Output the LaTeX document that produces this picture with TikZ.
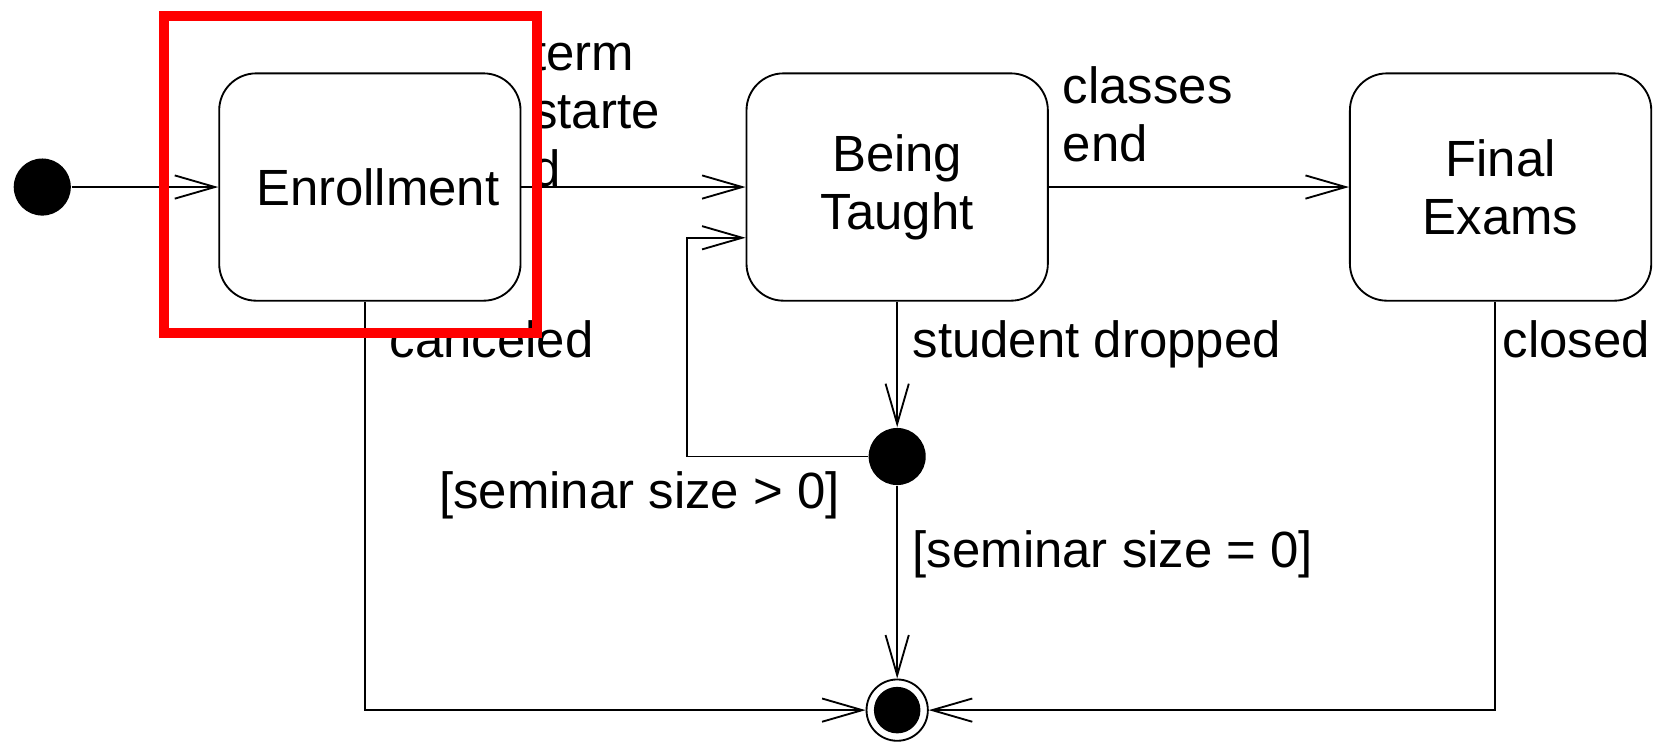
\documentclass[tikz,border=0pt]{standalone}
\usepackage{fontspec}
\setmainfont{Liberation Sans}
\usetikzlibrary{positioning,arrows.meta}

\newcommand{\lblfont}{\fontsize{13.7}{15.6}\selectfont}

\begin{document}
\begin{tikzpicture}[x=0.01cm,y=-0.01cm,
	state/.style={draw, line width=0.5pt, rounded corners=0.35cm, minimum width=2.85cm, minimum height=2.15cm, align=center, font=\lblfont},
	startdot/.style={circle, fill=black, inner sep=0pt, minimum size=0.54cm},
	enddot/.style={circle, draw, line width=0.5pt, inner sep=0pt, minimum size=0.58cm, path picture={\fill (path picture bounding box.center) circle (0.22cm);}},
	lbl/.style={font=\lblfont, inner sep=0pt, align=left},
	arr/.style={line width=0.5pt, -{Straight Barb[length=0.38cm,width=0.22cm]}},
	]
				\useasboundingbox (0,0) rectangle (1568,704);
				\node[startdot] (init) at (40,177) {};
				\node[state] (enroll) at (350,177) {\hspace{0.15cm}Enrollment};
				\node[state] (taught) at (849,177) {Being\\Taught};
				\node[state] (exams) at (1420,177) {Final\\Exams};
				\node[startdot] (junction) at (849,432) {};
				\node[enddot] (final) at (849,672) {};
				\coordinate (bend) at (650,225);
				
				\draw[arr] (init) -- (enroll);
				\draw[arr] (enroll) -- (taught);
				\draw[arr] (taught) -- (exams);
				\draw[arr] (taught) -- (junction);
				\draw[arr] (junction) -| (bend) -- (bend -| taught.west);
				\draw[arr] (junction) -- (final);
				\draw[arr] ([xshift=-0.05cm]enroll.south) |- (final.west);
				\draw[arr] ([xshift=-0.05cm]exams.south) |- (final.east);
				
				\node[lbl, anchor=north west] (lstart) at (503,35) {term\\starte\\d};
				\node[lbl, anchor=north west] (lend) at (1005,62) {classes\\end};
				\node[lbl, anchor=base west] (lcancel) at (368,338) {canceled};
				\node[lbl, anchor=base west] (ldrop) at (863,338) {student dropped};
				\node[lbl, anchor=base east] (lclosed) at (1562,338) {closed};
				\node[lbl, anchor=base west] (lgt) at (415,481) {[seminar size > 0]};
				\node[lbl, anchor=base west] (leq) at (863,537) {[seminar size = 0]};
				
				% highlight
				\draw[red, line width=0.1cm] (155,15) rectangle (508,315);
\end{tikzpicture}
\end{document}
